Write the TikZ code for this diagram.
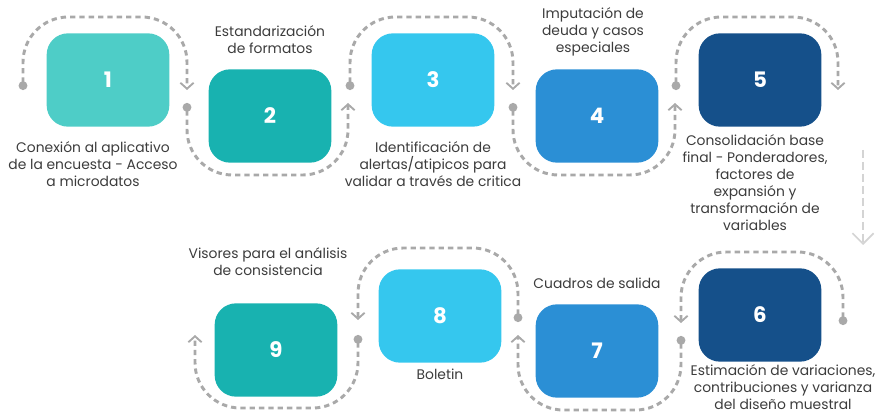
\documentclass[tikz,border=0pt]{standalone}
\usepackage{fontspec}
\setmainfont{Poppins}
\usetikzlibrary{arrows.meta}
\definecolor{tealA}{HTML}{4ECDC7}
\definecolor{tealB}{HTML}{18B2B0}
\definecolor{skyC}{HTML}{35C7EE}
\definecolor{blueD}{HTML}{2B8FD5}
\definecolor{navyE}{HTML}{15508A}
\definecolor{dotgray}{HTML}{A9A9A9}
\definecolor{capgray}{HTML}{3C3C3C}

\begin{document}
\begin{tikzpicture}[x=0.75pt,y=-0.75pt]
    \tikzset{stepbox/.style={rounded corners=16pt,fill=#1,minimum
    width=92pt,minimum height=70pt,text=white,font=\bfseries\fontsize{16}{18}\selectfont}}
    \tikzset{caption/.style={align=center,text=capgray,
    font=\fontsize{10.4}{12.75}\selectfont}}
    \tikzset{loop/.style={draw=dotgray,line width=2.2pt,dash pattern=on 4pt off 3pt,
    rounded corners=34pt,{Circle[length=6.5pt]}-{Straight Barb[length=4.5pt,width=10pt,line width=1.4pt]}}}

    \useasboundingbox (0,0) rectangle (878,413);

    % upper row
    \node [stepbox=tealA] (b1) at (108,80) {1};
    \node [stepbox=tealB] (b2) at (270,116) {2};
    \node [stepbox=skyC] (b3) at (433,80) {3};
    \node [stepbox=blueD] (b4) at (597,116) {4};
    \node [stepbox=navyE] (b5) at (760,80) {5};

    % lower row
    \node [stepbox=navyE] (b6) at (760,315) {6};
    \node [stepbox=blueD] (b7) at (597,351) {7};
    \node [stepbox=skyC] (b8) at (440,316) {8};
    \node [stepbox=tealB] (b9) at (276,350) {9};

    \node [caption] (t1) at (93,164) {Conexión al aplicativo\\de la encuesta - Acceso\\a microdatos};
    \node [caption] (t2) at (270,40) {Estandarización\\de formatos};
    \node [caption] (t3) at (433,164) {Identificación de\\alertas/atipicos para\\validar a través de critica};
    \node [caption] (t4) at (593,32) {Imputación de\\deuda y casos\\especiales};
    \node [caption] (t5) at (755,183) {Consolidación base\\final - Ponderadores,\\factores de\\expansión y\\transformación de\\variables};
    \node [caption] (t6) at (783,387) {Estimación de variaciones,\\contribuciones y varianza\\del diseño muestral};
    \node [caption] (t7) at (597,283) {Cuadros de salida};
    \node [caption] (t8) at (440,374) {Boletin};
    \node [caption] (t9) at (268,262) {Visores para el análisis\\de consistencia};

    % loop ends
    \coordinate (a1) at (23,90);   \coordinate (z1) at (187,90);
    \coordinate (a2) at (187,103); \coordinate (z2) at (348,103);
    \coordinate (a3) at (350,90);  \coordinate (z3) at (513,90);
    \coordinate (a4) at (513,103); \coordinate (z4) at (675,103);
    \coordinate (a5) at (676,90);  \coordinate (z5) at (838,90);
    \coordinate (a6) at (843,325); \coordinate (z6) at (681,323);
    \coordinate (a7) at (681,336); \coordinate (z7) at (518,335);
    \coordinate (a8) at (518,322); \coordinate (z8) at (358,320);
    \coordinate (a9) at (358,335); \coordinate (z9) at (195,335);

    \draw [loop] (a1) -- ++(0,-73) -| (z1);
    \draw [loop] (a2) -- ++(0,72) -| (z2);
    \draw [loop] (a3) -- ++(0,-73) -| (z3);
    \draw [loop] (a4) -- ++(0,72) -| (z4);
    \draw [loop] (a5) -- ++(0,-73) -| (z5);
    \draw [loop] (a6) -- ++(0,-73) -| (z6);
    \draw [loop] (a7) -- ++(0,74) -| (z7);
    \draw [loop] (a8) -- ++(0,-74) -| (z8);
    \draw [loop] (a9) -- ++(0,73) -| (z9);

    % row change
    \coordinate (r1) at (863,150);
    \coordinate (r2) at (863,245);
    \draw [draw=dotgray!50,line width=1.2pt,dash pattern=on 6pt off 3pt,
    -{Straight Barb[length=8pt,width=16pt,line width=1.2pt]}] (r1) -- (r2);
\end{tikzpicture}
\end{document}
